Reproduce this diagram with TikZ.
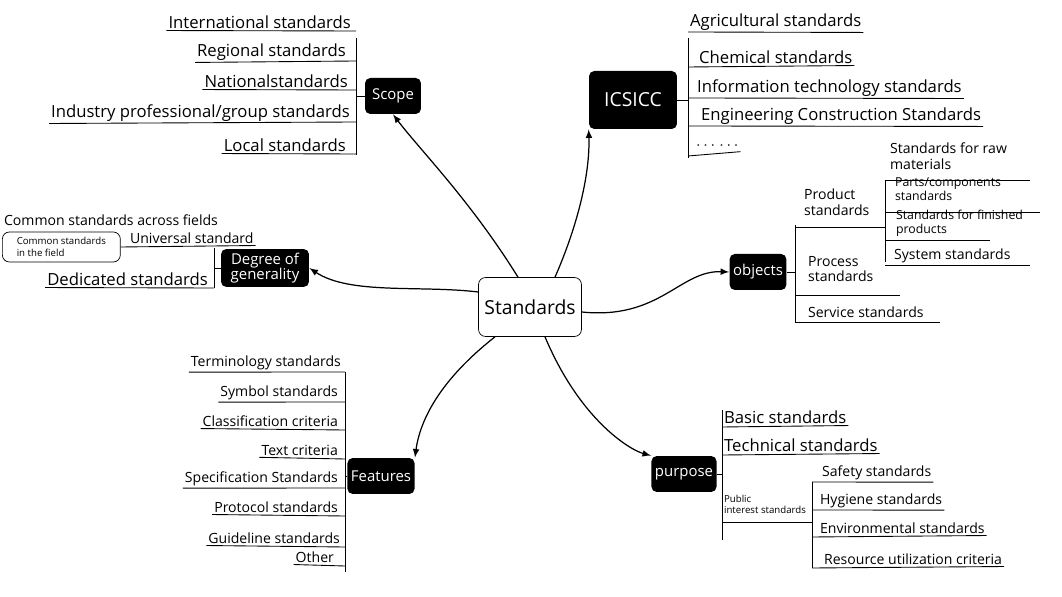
\documentclass[tikz,border=0pt]{standalone}
\usepackage{fontspec}
\setmainfont{Open Sans}
\begin{document}
\begin{tikzpicture}[x=0.02cm,y=-0.02cm,
 blk/.style={fill=black,text=white,rounded corners=3pt,font=\fontsize{8.5}{9}\selectfont,align=center,inner sep=2pt},
 lbl/.style={font=\fontsize{9.5}{10.5}\selectfont,inner sep=1pt},
 sml/.style={font=\fontsize{8}{9}\selectfont,inner sep=1pt,align=left},
 tny/.style={font=\fontsize{5.5}{6.5}\selectfont,inner sep=1pt,align=left},
 ln/.style={line width=0.5pt},
 con/.style={line width=0.7pt,-latex}]
\useasboundingbox (0,0) rectangle (1062,597);
\node[draw,rounded corners=4pt,font=\fontsize{11}{12}\selectfont,minimum width=2.04cm,minimum height=1.18cm] (c) at (530,307) {Standards};
\node[blk,minimum width=1.12cm,minimum height=0.72cm] (scope) at (393,96) {Scope};
\node[blk,minimum width=1.76cm,minimum height=1.16cm,font=\fontsize{11}{12}\selectfont] (ics) at (633,100) {ICSICC};
\node[blk,minimum width=1.76cm,minimum height=0.72cm] (deg) at (265,268) {Degree of\\generality};
\node[blk,minimum width=1.04cm,minimum height=0.72cm] (obj) at (758,272) {objects};
\node[blk,minimum width=1.08cm,minimum height=0.72cm] (fea) at (381,476) {Features};
\node[blk,minimum width=1.04cm,minimum height=0.72cm] (pur) at (684,474) {purpose};
\draw[con] (c.north) ++(-12,0) .. controls (470,200) and (420,150) .. (scope.south);
\draw[con] (c.north) ++(25,0) .. controls (580,220) and (590,170) .. (ics.south west);
\draw[con] (c.west) ++(0,-15) .. controls (420,285) and (350,295) .. (deg.east);
\draw[con] (c.east) ++(0,5) .. controls (660,320) and (680,270) .. (obj.west);
\draw[con] (c.south) ++(-35,0) .. controls (440,380) and (420,420) .. (fea.north east);
\draw[con] (c.south) ++(15,0) .. controls (580,420) and (630,450) .. (pur.north west);
% Scope
\foreach \t/\y/\x [count=\i] in {International standards/22/353,Regional standards/52/348,Nationalstandards/81/350,{Industry professional/group standards}/113/352,Local standards/145/348}{
 \node[lbl,anchor=east] (s\i) at (\x,\y) {\t};
 \draw[ln] (s\i.south west) -- (356,\y+9);}
\draw[ln] (356,38) -- (356,155); \draw[ln] (356,96) -- (scope.west);
% ICSICC
\foreach \t/\y/\x [count=\i] in {Agricultural standards/22/688,Chemical standards/57/697,Information technology standards/88/695,Engineering Construction Standards/116/699,{$\cdots$ $\cdots$}/146/694}{
 \node[lbl,anchor=west] (i\i) at (\x,\y) {\t};
 \draw[ln] (688,\y+10) -- (i\i.south east);}
\draw[ln] (688,38) -- (688,158); \draw[ln] (ics.east) -- (688,100);
% Degree
\node[sml,anchor=west] (d0) at (2,220) {Common standards across fields};
\node[tny,draw,rounded corners=4pt,anchor=west,minimum width=2.36cm,minimum height=0.6cm] (d1) at (2,247) {Common standards\\in the field};
\node[sml,anchor=west] (d2) at (128,238) {Universal standard};
\node[lbl,anchor=east] (d3) at (210,279) {Dedicated standards};
\draw[ln] (d1.east) -- (d2.south east);
\draw[ln] (d3.south west) -- (214,288);
\draw[ln] (214,248) -- (214,288); \draw[ln] (214,268) -- (deg.west);
% objects
\node[sml,anchor=north west] (o1) at (802,187) {Product\\standards};
\node[sml,anchor=north west] (o2) at (806,254) {Process\\standards};
\node[sml,anchor=west] (o3) at (806,312) {Service standards};
\draw[ln] (795,225) -- (795,322); \draw[ln] (obj.east) -- (795,272);
\draw[ln] (795,227) -- (885,227); \draw[ln] (795,295) -- (900,295); \draw[ln] (795,322) -- (940,322);
\node[sml,anchor=north west] (p1) at (888,141) {Standards for raw\\materials};
\node[tny,font=\fontsize{7}{8}\selectfont,anchor=north west] (p2) at (893,176) {Parts/components\\standards};
\node[tny,font=\fontsize{7}{8}\selectfont,anchor=north west] (p3) at (894,208) {Standards for finished\\products};
\node[sml,anchor=west] (p4) at (892,256) {System standards};
\draw[ln] (885,180) -- (885,262);
\draw[ln] (885,180) -- (1030,180); \draw[ln] (885,212) -- (1040,212);
\draw[ln] (885,240) -- (990,240); \draw[ln] (885,265) -- (1030,265);
% Features
\foreach \t/\y/\x [count=\i] in {Terminology standards/363/343,Symbol standards/393/340,Classification criteria/421/340,Text criteria/450/340,Specification Standards/479/340,Protocol standards/507/340,Guideline standards/538/342,Other/557/336}{
 \node[sml,anchor=east] (f\i) at (\x,\y) {\t};
 \draw[ln] (f\i.south west) -- (345,\y+9);}
\draw[ln] (345,372) -- (345,572); \draw[ln] (345,476) -- (fea.west);
% purpose
\node[lbl,anchor=west] (q1) at (722,417) {Basic standards};
\node[lbl,anchor=west] (q2) at (722,445) {Technical standards};
\node[tny,anchor=north west] (q3) at (722,493) {Public\\interest standards};
\draw[ln] (722,410) -- (722,540); \draw[ln] (pur.east) -- (722,474);
\draw[ln] (722,427) -- (q1.south east); \draw[ln] (722,455) -- (q2.south east); \draw[ln] (722,522) -- (812,522);
\foreach \t/\y/\x [count=\i] in {Safety standards/473/820,Hygiene standards/501/818,Environmental standards/528/818,Resource utilization criteria/559/822}{
 \node[sml,anchor=west] (r\i) at (\x,\y) {\t};
 \draw[ln] (812,\y+9) -- (r\i.south east);}
\draw[ln] (812,482) -- (812,568);
\end{tikzpicture}
\end{document}
